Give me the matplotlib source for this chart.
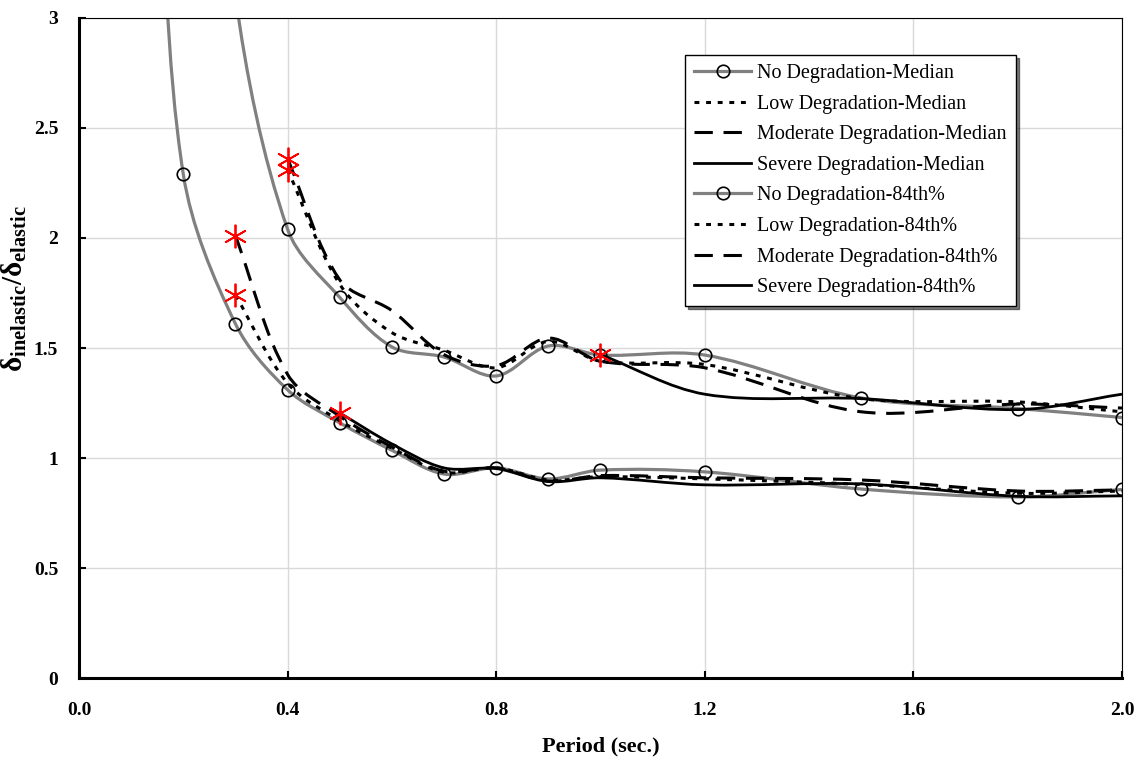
import numpy as np
import matplotlib.pyplot as plt
from matplotlib.path import Path
from matplotlib.patches import PathPatch
from matplotlib.lines import Line2D

plt.rcParams['font.family'] = ['Liberation Serif', 'DejaVu Serif']
plt.rcParams['mathtext.fontset'] = 'custom'
plt.rcParams['mathtext.rm'] = 'Liberation Serif:bold'
plt.rcParams['mathtext.it'] = 'Liberation Serif:bold'

# periods (sec.)
T_all = [0.15, 0.2, 0.3, 0.4, 0.5, 0.6, 0.7, 0.8, 0.9, 1.0, 1.2, 1.5, 1.8, 2.0]

# median curves
no_med_x = T_all
no_med = [3.9, 2.29, 1.61, 1.31, 1.16, 1.035, 0.927, 0.955, 0.905, 0.945, 0.937, 0.859, 0.823, 0.857]
low_med_x = T_all[2:]
low_med = [1.74, 1.34, 1.17, 1.045, 0.935, 0.955, 0.90, 0.915, 0.905, 0.88, 0.84, 0.85]
mod_med_x = T_all[2:]
mod_med = [2.01, 1.38, 1.19, 1.05, 0.94, 0.955, 0.895, 0.92, 0.91, 0.90, 0.85, 0.855]
sev_med_x = T_all[4:]
sev_med = [1.205, 1.064, 0.955, 0.952, 0.893, 0.91, 0.878, 0.882, 0.826, 0.828]

# 84th percentile curves
no_84_x = T_all[1:]
no_84 = [5.5, 3.1, 2.04, 1.73, 1.505, 1.459, 1.373, 1.509, 1.468, 1.468, 1.273, 1.225, 1.184]
low_84_x = T_all[3:]
low_84 = [2.31, 1.79, 1.57, 1.49, 1.41, 1.53, 1.44, 1.425, 1.27, 1.255, 1.21]
mod_84_x = T_all[3:]
mod_84 = [2.36, 1.81, 1.67, 1.47, 1.42, 1.545, 1.44, 1.41, 1.21, 1.245, 1.227]
sev_84_x = T_all[9:]
sev_84 = [1.47, 1.29, 1.27, 1.22, 1.29]

labels = ['No Degradation-Median', 'Low Degradation-Median',
          'Moderate Degradation-Median', 'Severe Degradation-Median',
          'No Degradation-84th%', 'Low Degradation-84th%',
          'Moderate Degradation-84th%', 'Severe Degradation-84th%']

grey = '#808080'
st_no = dict(color=grey, lw=2.3, ls='-')
st_low = dict(color='black', lw=2.2, ls=(0, (1.6, 2.2)))
st_mod = dict(color='black', lw=2.2, ls=(0, (6, 3.5)))
st_sev = dict(color='black', lw=2.0, ls='-')

fig = plt.figure(figsize=(11.43, 7.59), dpi=100)
ax = fig.add_axes([0.0691, 0.1067, 0.9125, 0.8696])
ax.set_xlim(0, 2.0)
ax.set_ylim(0, 3)


def smooth_path(x, y):
    # smoothed line as bezier segments, tangents scaled by screen chord lengths
    p = np.column_stack([x, y]).astype(float)
    s = ax.transData.transform(p)
    n = len(p)
    verts = [p[0]]
    codes = [Path.MOVETO]
    for i in range(n - 1):
        i0 = max(i - 1, 0)
        i3 = min(i + 2, n - 1)
        d01 = np.hypot(*(s[i] - s[i0]))
        d12 = np.hypot(*(s[i + 1] - s[i]))
        d23 = np.hypot(*(s[i3] - s[i + 1]))
        c1 = p[i] + (p[i + 1] - p[i0]) * d12 / (3 * (d01 + d12))
        c2 = p[i + 1] - (p[i3] - p[i]) * d12 / (3 * (d12 + d23))
        verts += [c1, c2, p[i + 1]]
        codes += [Path.CURVE4] * 3
    return Path(verts, codes)


series = [
    (no_med_x, no_med, st_no), (low_med_x, low_med, st_low),
    (mod_med_x, mod_med, st_mod), (sev_med_x, sev_med, st_sev),
    (no_84_x, no_84, st_no), (low_84_x, low_84, st_low),
    (mod_84_x, mod_84, st_mod), (sev_84_x, sev_84, st_sev),
]

for x, y, st in series:
    patch = PathPatch(smooth_path(x, y), facecolor='none', edgecolor=st['color'],
                      lw=st['lw'], ls=st['ls'], zorder=3 if st is not st_no else 2,
                      capstyle='butt')
    ax.add_patch(patch)

# circle markers on the no-degradation curves
for x, y in [(no_med_x, no_med), (no_84_x, no_84)]:
    ax.plot(x, y, ls='none', marker='o', ms=9, mfc='none', mec='black', mew=1.2, zorder=4)

# red asterisks at the first point of degraded curves
for x, y, st in series:
    if st is not st_no:
        ax.plot(x[0], y[0], ls='none', marker=(6, 2, 0), ms=17, mec='red', mew=1.3, zorder=5)

ax.set_xticks(np.arange(0, 2.01, 0.4))
ax.set_xticklabels(['%.1f' % v for v in np.arange(0, 2.01, 0.4)])
ax.set_yticks([0, 0.5, 1, 1.5, 2, 2.5, 3])
ax.set_yticklabels(['0', '0.5', '1', '1.5', '2', '2.5', '3'])
ax.grid(True, color='#d9d9d9', lw=1)
ax.set_axisbelow(True)

for lab in ax.get_xticklabels() + ax.get_yticklabels():
    lab.set_fontweight('bold')
    lab.set_fontsize(14)
ax.tick_params(axis='x', direction='in', length=5, width=1.5, pad=17)
ax.tick_params(axis='y', direction='in', length=5, width=1.5, pad=15)

ax.spines['left'].set_linewidth(2.2)
ax.spines['bottom'].set_linewidth(2.2)
ax.spines['top'].set_linewidth(0.8)
ax.spines['right'].set_linewidth(0.8)

ax.set_xlabel('Period (sec.)', fontsize=16, fontweight='bold')
ax.xaxis.set_label_coords(0.5, -0.088)
ax.set_ylabel(r'$\mathrm{δ_{inelastic}/δ_{elastic}}$', fontsize=21)
ax.yaxis.set_label_coords(-0.048, 0.59)

handles = []
for x, y, st in series:
    if st is st_no:
        h = Line2D([], [], color=grey, lw=2.3, marker='o', ms=9, mfc='none', mec='black', mew=1.2)
    else:
        h = Line2D([], [], color='black', lw=st['lw'], ls=st['ls'])
    handles.append(h)

leg = ax.legend(handles, labels, loc='upper left', bbox_to_anchor=(0.581, 0.944),
                fontsize=14.5, frameon=True, fancybox=False, shadow={'color': 'black'},
                handlelength=2.85, labelspacing=0.57, borderpad=0.45, handletextpad=0.3,
                borderaxespad=0)
leg.get_frame().set_edgecolor('black')
leg.get_frame().set_linewidth(1.0)
leg.set_zorder(10)

plt.savefig('out.png', dpi=100)
